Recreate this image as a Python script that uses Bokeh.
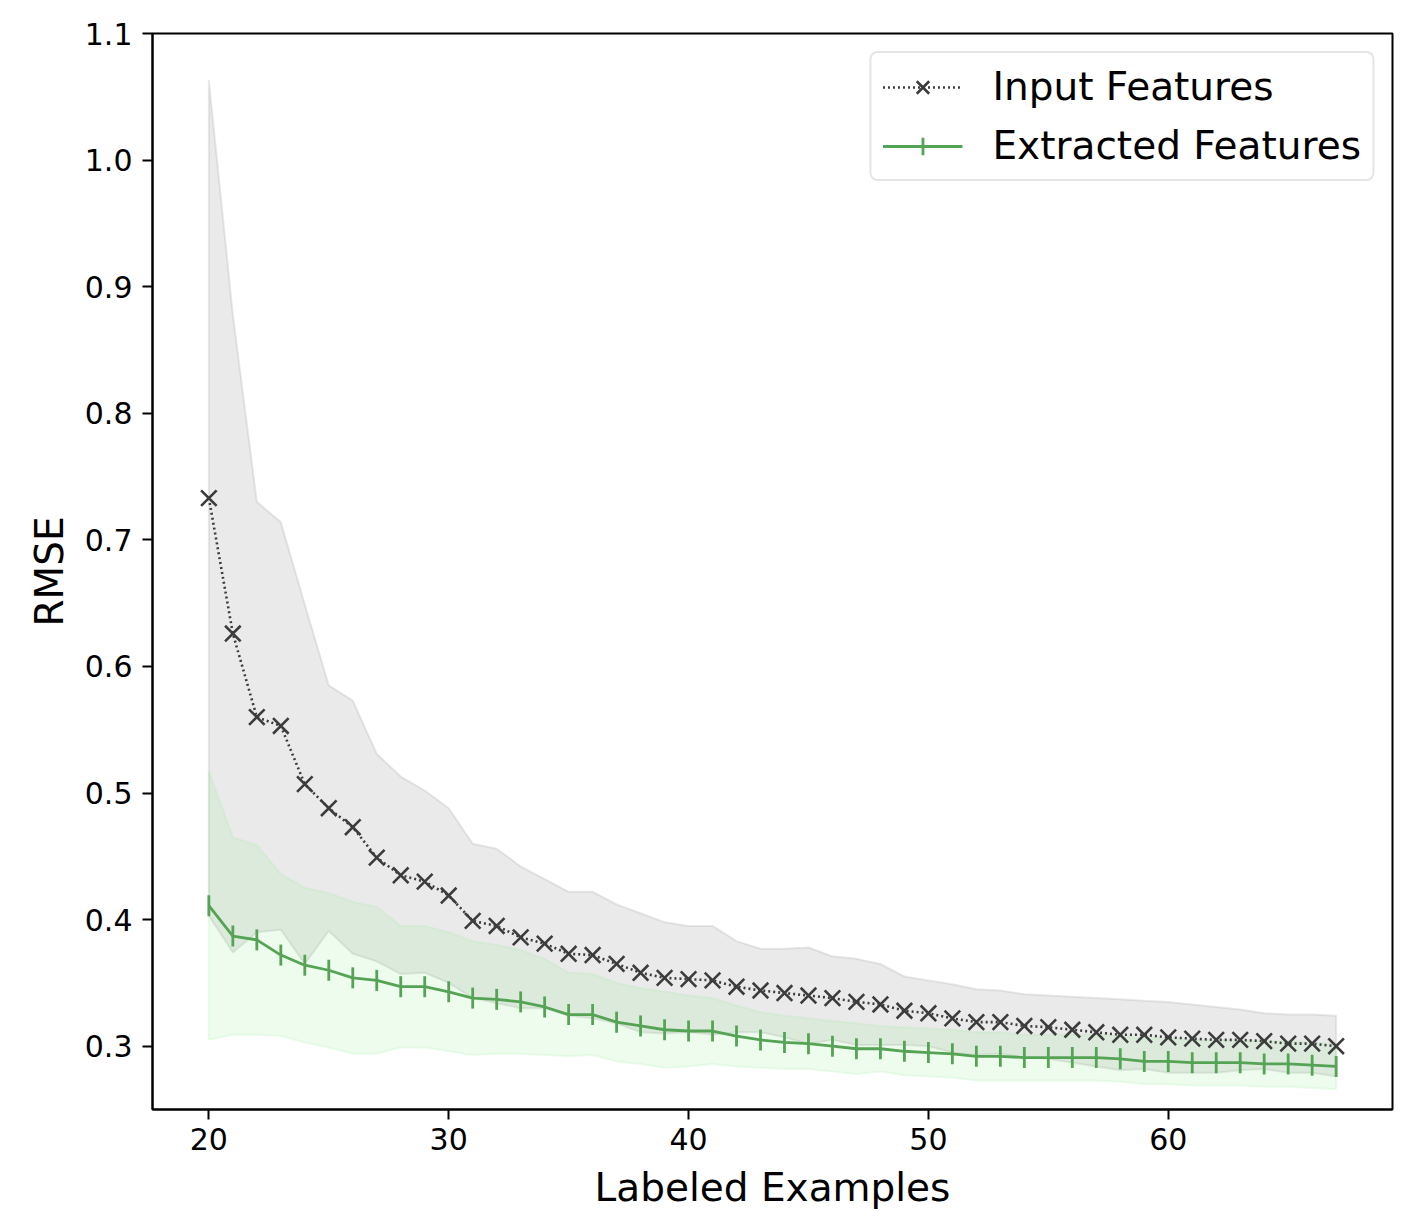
import numpy as np
from bokeh.plotting import figure
from bokeh.models import Range1d, FixedTicker, Legend, LegendItem, NumeralTickFormatter
from bokeh.embed import file_html
from bokeh.resources import INLINE

# ---- data ----
labeled = list(range(20, 68))

input_mean = [0.733, 0.626, 0.560, 0.553, 0.507, 0.488, 0.473, 0.449, 0.435, 0.430,
              0.419, 0.399, 0.395, 0.386, 0.381, 0.373, 0.372, 0.365, 0.358, 0.354,
              0.353, 0.352, 0.347, 0.344, 0.342, 0.340, 0.338, 0.335, 0.333, 0.328,
              0.326, 0.322, 0.319, 0.319, 0.316, 0.315, 0.313, 0.311, 0.309, 0.309,
              0.307, 0.306, 0.305, 0.305, 0.304, 0.302, 0.302, 0.300]
input_std = [0.330, 0.252, 0.170, 0.161, 0.142, 0.097, 0.100, 0.082, 0.078, 0.072,
             0.069, 0.061, 0.061, 0.056, 0.051, 0.049, 0.050, 0.047, 0.047, 0.044,
             0.042, 0.043, 0.036, 0.033, 0.035, 0.038, 0.033, 0.034, 0.032, 0.027,
             0.026, 0.027, 0.026, 0.025, 0.025, 0.025, 0.026, 0.027, 0.028, 0.027,
             0.028, 0.027, 0.026, 0.024, 0.022, 0.023, 0.023, 0.024]

extracted_mean = [0.411, 0.387, 0.384, 0.372, 0.364, 0.360, 0.354, 0.352, 0.347, 0.347,
                  0.343, 0.338, 0.337, 0.335, 0.331, 0.325, 0.325, 0.319, 0.316, 0.313,
                  0.312, 0.312, 0.308, 0.305, 0.303, 0.302, 0.300, 0.298, 0.298, 0.296,
                  0.295, 0.294, 0.292, 0.292, 0.291, 0.291, 0.291, 0.291, 0.290, 0.288,
                  0.288, 0.287, 0.287, 0.287, 0.286, 0.286, 0.285, 0.284]
extracted_std = [0.106, 0.078, 0.075, 0.064, 0.061, 0.061, 0.060, 0.058, 0.048, 0.048,
                 0.047, 0.045, 0.043, 0.041, 0.038, 0.033, 0.032, 0.031, 0.030, 0.030,
                 0.028, 0.026, 0.024, 0.022, 0.021, 0.020, 0.020, 0.020, 0.018, 0.019,
                 0.019, 0.019, 0.019, 0.019, 0.018, 0.018, 0.018, 0.018, 0.018, 0.018,
                 0.018, 0.018, 0.018, 0.018, 0.018, 0.018, 0.018, 0.018]

x_ticks = [20, 30, 40, 50, 60]
y_ticks = [0.3, 0.4, 0.5, 0.6, 0.7, 0.8, 0.9, 1.0, 1.1]

FONT = "DejaVu Sans"
GREEN = "#55a355"
DARK = "#3c3c3c"

p = figure(width=1400, height=1220, output_backend="svg", toolbar_location=None,
           x_range=Range1d(17.65, 69.35), y_range=Range1d(0.25, 1.1),
           min_border_left=152, min_border_right=8, min_border_top=33,
           min_border_bottom=111)
# a range that keeps the legend-only glyph out of the frame
p.extra_y_ranges = {"legend_only": Range1d(100, 101)}

p.xgrid.visible = False
p.ygrid.visible = False
p.outline_line_color = "black"
p.outline_line_width = 2
p.background_fill_color = "white"
p.border_fill_color = "white"

for ax in (p.xaxis[0], p.yaxis[0]):
    ax.axis_line_width = 2
    ax.major_tick_line_width = 2
    ax.major_tick_out = 10
    ax.major_tick_in = 0
    ax.minor_tick_line_color = None
    ax.major_label_text_font = FONT
    ax.major_label_text_font_size = "30px"
    ax.major_label_text_color = "black"
    ax.axis_label_text_font = FONT
    ax.axis_label_text_font_size = "39px"
    ax.axis_label_text_font_style = "normal"
    ax.axis_label_text_color = "black"

p.xaxis.ticker = FixedTicker(ticks=x_ticks)
p.yaxis.ticker = FixedTicker(ticks=y_ticks)
p.yaxis.formatter = NumeralTickFormatter(format="0.0")
p.xaxis.major_label_standoff = 8
p.yaxis.major_label_standoff = 10
p.xaxis.axis_label = "Labeled Examples"
p.yaxis.axis_label = "RMSE"
p.xaxis.axis_label_standoff = 12
p.yaxis.axis_label_standoff = 10

xa = np.array(labeled, dtype=float)
im = np.array(input_mean)
isd = np.array(input_std)
em = np.array(extracted_mean)
esd = np.array(extracted_std)

# grey band (input)
p.patch(np.concatenate([xa, xa[::-1]]),
        np.concatenate([im + isd, (im - isd)[::-1]]),
        fill_color="grey", fill_alpha=0.17, line_color="grey", line_alpha=0.17,
        line_width=2)
# green band (extracted)
p.patch(np.concatenate([xa, xa[::-1]]),
        np.concatenate([em + esd, (em - esd)[::-1]]),
        fill_color="lightgreen", fill_alpha=0.15, line_color="lightgreen",
        line_alpha=0.15, line_width=2)

in_line = p.line(xa, im, line_color=DARK, line_width=2.6, line_dash="2 3")
in_mark = p.scatter(xa, im, marker="x", size=22, line_color=DARK, line_width=2.6)

ex_line = p.line(xa, em, line_color=GREEN, line_width=2.8)
ex_mark = p.scatter(xa, em, marker="dash", size=21, angle=np.pi / 2,
                    line_color=GREEN, line_width=2.8)
# legend-only glyph (outside the frame): a cross whose horizontal arm lies on
# the legend line, so it shows as a vertical tick like the plotted markers
ex_legend_mark = p.scatter(xa, em, marker="cross", size=21, line_color=GREEN,
                           line_width=2.8, y_range_name="legend_only")

legend = Legend(items=[
    LegendItem(label="Input Features", renderers=[in_line, in_mark]),
    LegendItem(label="Extracted Features", renderers=[ex_line, ex_legend_mark]),
], location="top_right")
legend.margin = 18
legend.padding = 11
legend.spacing = 14
legend.glyph_width = 80
legend.glyph_height = 44
legend.label_standoff = 30
legend.label_text_font = FONT
legend.label_text_font_size = "39px"
legend.label_text_color = "black"
legend.border_line_color = "#cccccc"
legend.border_line_width = 2
legend.border_radius = 8
legend.background_fill_alpha = 0.8
p.add_layout(legend)

open("out.html", "w").write(file_html(p, INLINE))
